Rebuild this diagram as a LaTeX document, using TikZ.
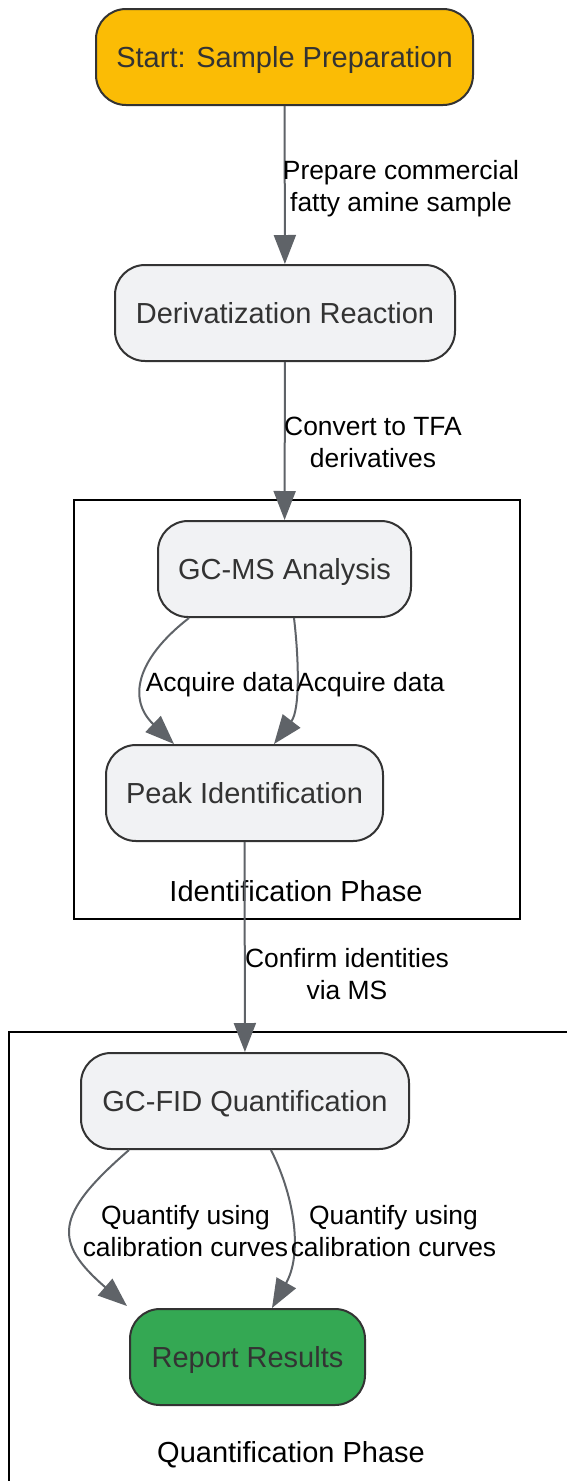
\documentclass[tikz,border=0pt]{standalone}
\usepackage{fontspec}
\setmainfont{Liberation Sans}
\usetikzlibrary{calc,arrows.meta}
\definecolor{edgegray}{HTML}{5F6368}
\definecolor{nodegray}{HTML}{F1F2F4}
\definecolor{startgold}{HTML}{FBBC05}
\definecolor{endgreen}{HTML}{34A853}
\definecolor{ink}{HTML}{333333}
\tikzset{
  stage/.style={draw=ink, line width=2pt, fill=nodegray, rounded corners=30pt,
    minimum height=96pt, inner sep=0pt, text depth=0pt, text=ink, font=\fontsize{29}{34}\selectfont},
  startstage/.style={stage, fill=startgold},
  endstage/.style={stage, fill=endgreen},
  flow/.style={draw=edgegray, line width=2pt, -{Triangle[length=29pt,width=22pt]}},
  flowlab/.style={text=black, align=center, inner sep=0pt, font=\fontsize{26.4}{32}\selectfont},
  phase/.style={draw=black, line width=2pt},
  phaselab/.style={text=black, inner sep=0pt, font=\fontsize{29}{34}\selectfont},
}
\begin{document}
\begin{tikzpicture}[x=1pt,y=1pt]
  \useasboundingbox (0,0) rectangle (567,-1481);

  % phases
  \draw[phase] (74,-500) rectangle (520,-919);
  \draw[phase] (9,-1032) rectangle (620,-1540);
  \node[phaselab] (idlab) at (296,-891) {Identification Phase};
  \node[phaselab] (qlab) at (291,-1455) {Quantification Phase};

  % stages
  \node[startstage, minimum width=377pt] (start) at (284.5,-57) {Start: Sample Preparation};
  \node[stage, minimum width=340pt] (deriv) at (285,-313) {Derivatization Reaction};
  \node[stage, minimum width=253pt] (gcms) at (284.5,-569) {GC-MS Analysis};
  \node[stage, minimum width=277pt] (peak) at (244.5,-793) {Peak Identification};
  \node[stage, minimum width=328pt] (gcfid) at (245,-1101) {GC-FID Quantification};
  \node[endstage, minimum width=235pt] (report) at (247.5,-1357) {Report Results};

  \draw[flow] (start) -- (deriv);
  \draw[flow] (deriv) -- (gcms);
  \draw[flow] ([xshift=-95.5pt]gcms.south) .. controls (135,-660) and (128,-700) .. ([xshift=-70.5pt]peak.north);
  \draw[flow] ([xshift=9.5pt]gcms.south) .. controls (299,-660) and (300,-710) .. ([xshift=29.5pt]peak.north);
  \draw[flow] (peak) -- (gcfid);
  \draw[flow] ([xshift=-116pt]gcfid.south) .. controls (54,-1215) and (53,-1242) .. ([xshift=-2pt,yshift=2pt]report.north west);
  \draw[flow] ([xshift=26pt]gcfid.south) .. controls (296,-1200) and (302,-1255) .. ([xshift=24.5pt]report.north);

  % edge labels
  \node[flowlab] (l1) at (401,-189) {Prepare commercial\\fatty amine sample};
  \node[flowlab] (l2) at (373,-442) {Convert to TFA\\derivatives};
  \node[flowlab] (l3) at (220,-685) {Acquire data};
  \node[flowlab] (l4) at (370.5,-685) {Acquire data};
  \node[flowlab] (l5) at (347,-974) {Confirm identities\\via MS};
  \node[flowlab] (l6) at (185.5,-1231) {Quantify using\\calibration curves};
  \node[flowlab] (l7) at (393.5,-1231) {Quantify using\\calibration curves};
\end{tikzpicture}
\end{document}
